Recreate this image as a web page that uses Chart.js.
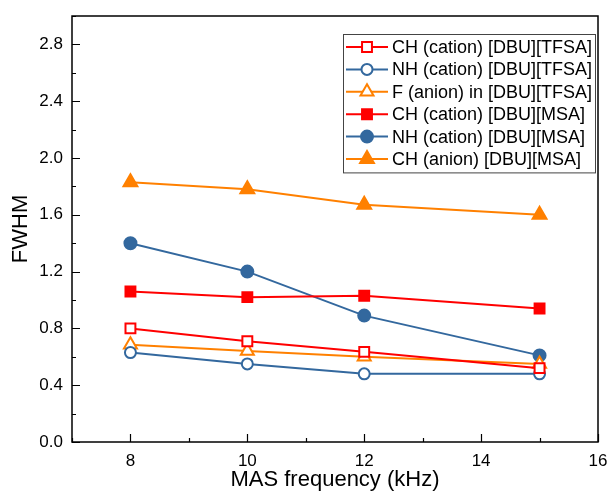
<!DOCTYPE html>
<html>
<head>
<meta charset="utf-8">
<script src="https://cdn.jsdelivr.net/npm/chart.js@4.4.1/dist/chart.umd.min.js"></script>
<style>
  html, body { margin: 0; padding: 0; background: #ffffff; }
  #wrap { width: 608px; height: 493px; }
</style>
</head>
<body>
<div id="wrap"><canvas id="chartFwhm" width="608" height="493"></canvas></div>
<script>
// MAS frequency (kHz) and FWHM values per signal
const freqs = [8, 10, 12, 15];
const chTfsa = [0.80, 0.71, 0.635, 0.52];
const nhTfsa = [0.63, 0.55, 0.48, 0.48];
const fTfsa = [0.685, 0.64, 0.60, 0.55];
const chMsa = [1.06, 1.02, 1.03, 0.94];
const nhMsa = [1.40, 1.20, 0.89, 0.61];
const chAnionMsa = [1.83, 1.78, 1.67, 1.60];

const xTicks = [8, 10, 12, 14, 16];
const yTicks = [0.0, 0.4, 0.8, 1.2, 1.6, 2.0, 2.4, 2.8];

const red = "#ff0000";
const blue = "#33689e";
const orange = "#ff8000";
const fontFamily = "Arial, 'Liberation Sans', Helvetica, sans-serif";

const toPoints = (vals) => vals.map((v, i) => ({ x: freqs[i], y: v }));

function series(label, vals, color, style, open, radius) {
  return {
    label: label,
    data: toPoints(vals),
    borderColor: color,
    backgroundColor: open ? "#ffffff" : color,
    pointStyle: style,
    pointRadius: radius,
    pointHoverRadius: radius,
    pointBorderWidth: 2,
    pointBorderColor: color,
    pointBackgroundColor: open ? "#ffffff" : color,
    borderWidth: 2,
    tension: 0,
    fill: false,
  };
}

// frame, inward ticks and the boxed legend
const framePlugin = {
  id: "framePlugin",
  afterDraw(chart) {
    const ctx = chart.ctx;
    const a = chart.chartArea;
    const xs = chart.scales.x;
    const ys = chart.scales.y;
    ctx.save();
    ctx.strokeStyle = "#000000";
    ctx.lineWidth = 1.5;
    ctx.strokeRect(a.left, a.top, a.right - a.left, a.bottom - a.top);

    ctx.lineWidth = 1.2;
    ctx.beginPath();
    for (let v = 7; v <= 16; v += 1) {
      const px = Math.round(xs.getPixelForValue(v)) + 0.5;
      const len = v % 2 === 0 ? 8 : 4;
      ctx.moveTo(px, a.bottom);
      ctx.lineTo(px, a.bottom - len);
    }
    for (let k = 0; k <= 15; k++) {
      const v = k * 0.2;
      const py = Math.round(ys.getPixelForValue(v)) + 0.5;
      const len = k % 2 === 0 ? 8 : 4;
      ctx.moveTo(a.left, py);
      ctx.lineTo(a.left + len, py);
    }
    ctx.stroke();

    // legend
    const sets = chart.data.datasets;
    const rowH = 22.4;
    const boxRight = a.right - 3;
    const boxTop = a.top + 18;
    const boxLeft = 343;
    const boxBottom = boxTop + rowH * sets.length + 4;
    ctx.lineWidth = 1;
    ctx.strokeStyle = "#444444";
    ctx.fillStyle = "#ffffff";
    ctx.fillRect(boxLeft, boxTop, boxRight - boxLeft, boxBottom - boxTop);
    ctx.strokeRect(boxLeft + 0.5, boxTop + 0.5, boxRight - boxLeft, boxBottom - boxTop);

    ctx.font = "18px " + fontFamily;
    ctx.textBaseline = "middle";
    ctx.textAlign = "left";
    sets.forEach((ds, i) => {
      const cy = boxTop + 13 + i * rowH;
      ctx.strokeStyle = ds.borderColor;
      ctx.lineWidth = 2;
      ctx.beginPath();
      ctx.moveTo(boxLeft + 3, cy);
      ctx.lineTo(boxLeft + 45, cy);
      ctx.stroke();
      ctx.fillStyle = ds.pointBackgroundColor;
      ctx.strokeStyle = ds.pointBorderColor;
      ctx.lineWidth = 2;
      Chart.helpers.drawPoint(ctx, { pointStyle: ds.pointStyle, radius: ds.pointRadius, rotation: 0, borderWidth: 2 }, boxLeft + 24, cy);
      ctx.fillStyle = "#000000";
      ctx.fillText(ds.label, boxLeft + 49, cy + 1);
    });
    ctx.restore();
  },
};

new Chart(document.getElementById("chartFwhm").getContext("2d"), {
  type: "line",
  data: {
    datasets: [
      series("CH (cation) [DBU][TFSA]", chTfsa, red, "rect", true, 7),
      series("NH (cation) [DBU][TFSA]", nhTfsa, blue, "circle", true, 5.5),
      series("F (anion) in [DBU][TFSA]", fTfsa, orange, "triangle", true, 7.5),
      series("CH (cation) [DBU][MSA]", chMsa, red, "rect", false, 7),
      series("NH (cation) [DBU][MSA]", nhMsa, blue, "circle", false, 6),
      series("CH (anion) [DBU][MSA]", chAnionMsa, orange, "triangle", false, 8),
    ],
  },
  options: {
    responsive: false,
    animation: false,
    devicePixelRatio: 1,
    layout: { padding: { top: 16, right: 8, left: 0, bottom: 0 } },
    plugins: {
      legend: { display: false },
      tooltip: { enabled: false },
    },
    scales: {
      x: {
        type: "linear",
        min: 7,
        max: 16,
        afterBuildTicks: (s) => { s.ticks = xTicks.map((v) => ({ value: v })); },
        afterFit: (s) => { s.height = 51; s.paddingLeft = 0; s.paddingRight = 0; },
        grid: { display: false, drawTicks: false },
        border: { display: false },
        ticks: {
          color: "#000000",
          padding: 9,
          maxRotation: 0,
          font: { family: fontFamily, size: 17 },
          callback: (v) => String(v),
        },
        title: {
          display: true,
          text: "MAS frequency (kHz)",
          color: "#000000",
          padding: { top: 1, bottom: 0 },
          font: { family: fontFamily, size: 22 },
        },
      },
      y: {
        type: "linear",
        min: 0,
        max: 3.0,
        afterBuildTicks: (s) => { s.ticks = yTicks.map((v) => ({ value: v })); },
        afterFit: (s) => { s.width = 72; s.paddingTop = 0; s.paddingBottom = 0; },
        grid: { display: false, drawTicks: false },
        border: { display: false },
        ticks: {
          color: "#000000",
          padding: 9,
          font: { family: fontFamily, size: 17 },
          callback: (v) => v.toFixed(1),
        },
        title: {
          display: true,
          text: "FWHM",
          color: "#000000",
          padding: { top: 8, bottom: 0 },
          font: { family: fontFamily, size: 22 },
        },
      },
    },
  },
  plugins: [framePlugin],
});
</script>
</body>
</html>
